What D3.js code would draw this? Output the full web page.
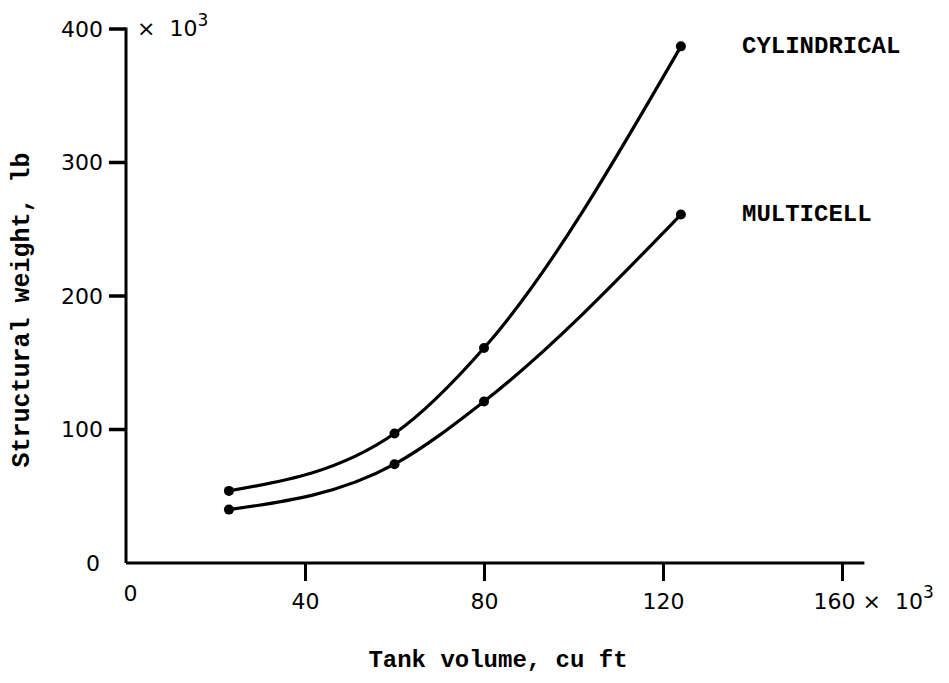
<!DOCTYPE html>
<html>
<head>
<meta charset="utf-8">
<script src="https://cdn.jsdelivr.net/npm/d3@7"></script>
<style>
  body { margin: 0; background: #fff; }
  .tick text { font-family: "DejaVu Sans", sans-serif; font-size: 22px; fill: #000; }
  .mono { font-family: "Liberation Mono", "Courier New", monospace; font-weight: bold; fill: #000; }
</style>
</head>
<body>
<div id="chart"></div>
<script>
// data (thousands)
var volume = [23, 60, 80, 124];
var cylindrical = [54, 97, 161, 387];
var multicell = [40, 74, 121, 261];
var seriesNames = ["CYLINDRICAL", "MULTICELL"];
var xTicks = [0, 40, 80, 120, 160];
var yTicks = [0, 100, 200, 300, 400];

var width = 949, height = 683;

var svg = d3.select("#chart")
  .append("svg")
    .attr("width", width)
    .attr("height", height);

// scales
var x = d3.scaleLinear().domain([0, 160]).range([126, 842]);
var y = d3.scaleLinear().domain([0, 400]).range([563, 29]);

// x axis
var xAxis = svg.append("g")
    .attr("transform", "translate(0," + y(0) + ")")
    .call(d3.axisBottom(x).tickValues(xTicks).tickSize(18).tickSizeOuter(0).tickPadding(12));
xAxis.select(".domain").remove();
xAxis.selectAll(".tick line").attr("stroke", "#000").attr("stroke-width", 3);
xAxis.selectAll(".tick").filter(d => d === 0).select("line").remove();
xAxis.selectAll(".tick").filter(d => d === 0).select("text").attr("dx", 4).attr("y", 22);
xAxis.selectAll(".tick").filter(d => d === 160).select("text")
    .attr("text-anchor", "start").attr("dx", -29)
    .attr("xml:space", "preserve")
    .text("160 \u00d7  10")
  .append("tspan").attr("dy", "-0.6em").attr("font-size", "17px").text("3");

svg.append("line")
    .attr("x1", x(0)).attr("x2", x(165))
    .attr("y1", y(0)).attr("y2", y(0))
    .attr("stroke", "#000").attr("stroke-width", 3);

// y axis
var yAxis = svg.append("g")
    .attr("transform", "translate(" + x(0) + ",0)")
    .call(d3.axisLeft(y).tickValues(yTicks).tickSize(0).tickSizeOuter(0).tickPadding(23));
yAxis.select(".domain").remove();
yAxis.selectAll(".tick").filter(d => d === 0).select("text").attr("dx", -3);

svg.selectAll("line.ytick")
  .data(yTicks.filter(d => d > 0))
  .join("line")
    .attr("class", "ytick")
    .attr("x1", x(0) - 17).attr("x2", x(0))
    .attr("y1", d => y(d)).attr("y2", d => y(d))
    .attr("stroke", "#000").attr("stroke-width", 3.5);

svg.append("line")
    .attr("x1", x(0)).attr("x2", x(0))
    .attr("y1", y(400) - 1.5).attr("y2", y(0))
    .attr("stroke", "#000").attr("stroke-width", 3);

svg.append("text")
    .attr("x", x(0) + 11).attr("y", y(400) + 7)
    .attr("font-family", "DejaVu Sans, sans-serif").attr("font-size", "22px")
    .attr("xml:space", "preserve")
    .text("\u00d7  10")
  .append("tspan").attr("dy", "-0.6em").attr("font-size", "17px").text("3");

// curves
var line = d3.line()
    .x(d => x(d[0]))
    .y(d => y(d[1]))
    .curve(d3.curveMonotoneX);

var series = [cylindrical, multicell].map(vals => volume.map((v, i) => [v, vals[i]]));

svg.selectAll("path.curve")
  .data(series)
  .join("path")
    .attr("class", "curve")
    .attr("d", line)
    .attr("fill", "none")
    .attr("stroke", "#000")
    .attr("stroke-width", 3.2);

svg.selectAll("g.pts")
  .data(series)
  .join("g")
    .attr("class", "pts")
  .selectAll("circle")
  .data(d => d)
  .join("circle")
    .attr("cx", d => x(d[0]))
    .attr("cy", d => y(d[1]))
    .attr("r", 5)
    .attr("fill", "#000");

// series labels
svg.selectAll("text.series")
  .data(seriesNames)
  .join("text")
    .attr("class", "series mono")
    .attr("x", 742)
    .attr("y", (d, i) => i === 0 ? 53 : 221)
    .attr("font-size", "24px")
    .text(d => d);

// axis titles
svg.append("text")
    .attr("class", "mono")
    .attr("x", 498).attr("y", 667)
    .attr("text-anchor", "middle")
    .attr("font-size", "24px")
    .text("Tank volume, cu ft");

svg.append("text")
    .attr("class", "mono")
    .attr("transform", "translate(29,310) rotate(-90)")
    .attr("text-anchor", "middle")
    .attr("font-size", "25px")
    .text("Structural weight, lb");
</script>
</body>
</html>
